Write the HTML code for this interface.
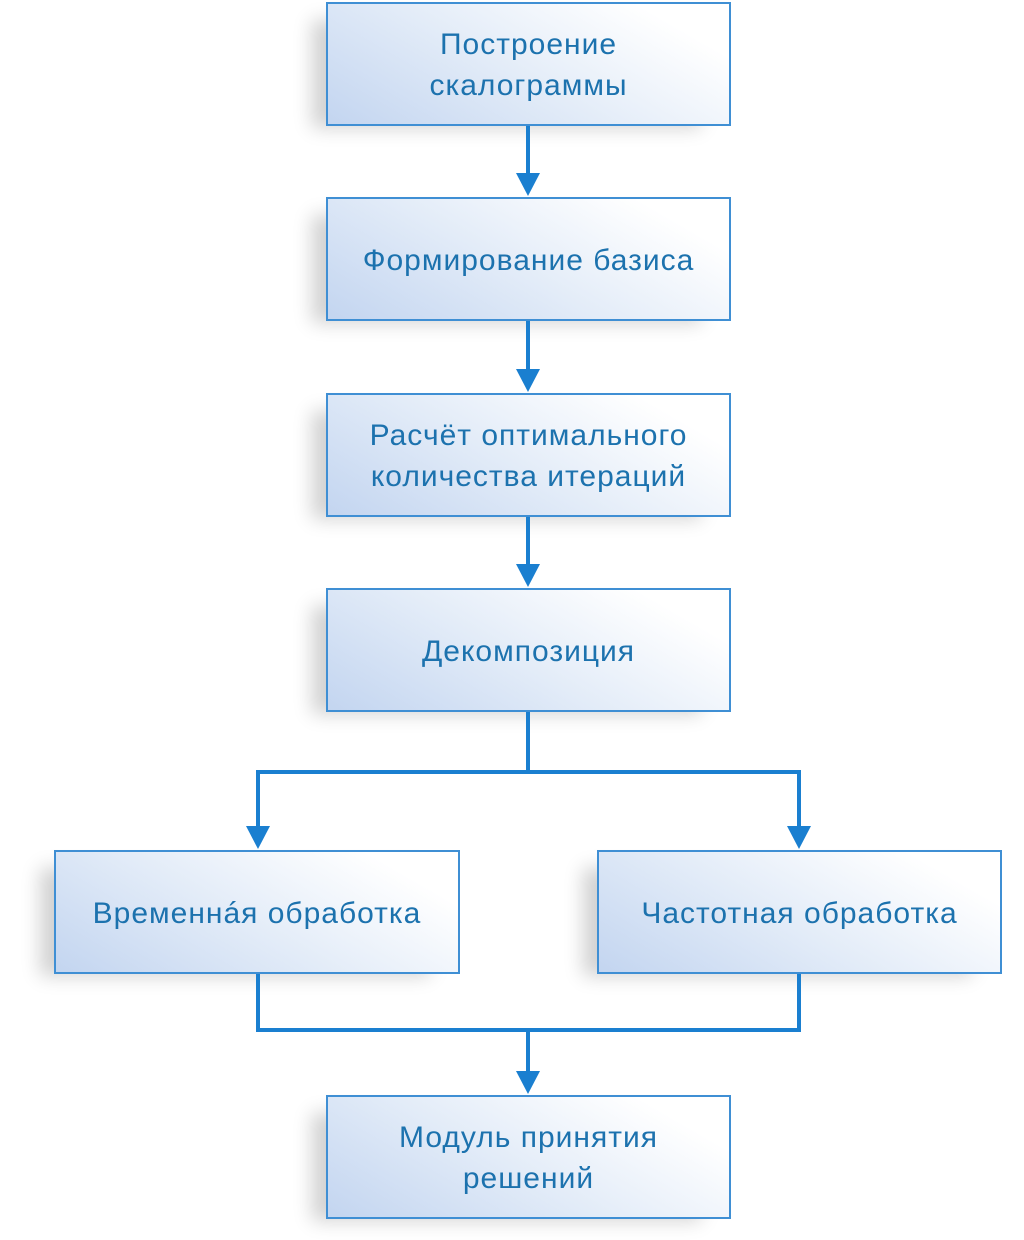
<!DOCTYPE html>
<html><head><meta charset="utf-8"><style>
body{margin:0;width:1024px;height:1240px;background:#fff;position:relative;overflow:hidden;font-family:"Liberation Sans","DejaVu Sans",sans-serif;}
.b{position:absolute;box-sizing:border-box;border:2px solid #3f8fd4;background:linear-gradient(30deg,#c3d5f0 0%,#e3ecf8 45%,#fff 85%);box-shadow:-22px 10px 18px -8px rgba(0,0,0,0.18);display:flex;align-items:center;justify-content:center;text-align:center;color:#1c72ae;font-size:30px;letter-spacing:1px;line-height:41px;padding-top:2px;}
svg{position:absolute;left:0;top:0}
</style></head><body>
<div class="b" style="left:326px;top:2px;width:405px;height:124px">Построение<br>скалограммы</div>
<div class="b" style="left:326px;top:197px;width:405px;height:124px">Формирование базиса</div>
<div class="b" style="left:326px;top:393px;width:405px;height:124px">Расчёт оптимального<br>количества итераций</div>
<div class="b" style="left:326px;top:588px;width:405px;height:124px">Декомпозиция</div>
<div class="b" style="left:54px;top:850px;width:406px;height:124px">Временнáя обработка</div>
<div class="b" style="left:597px;top:850px;width:405px;height:124px">Частотная обработка</div>
<div class="b" style="left:326px;top:1095px;width:405px;height:124px">Модуль принятия<br>решений</div>
<svg width="1024" height="1240">
<g stroke="#1a7fd0" stroke-width="4" fill="none">
<path d="M528 126V176M528 321V372M528 517V567M528 712V772M258 772H799M258 770V829M799 770V829M258 974V1030H799V974M528 1030V1074"/>
</g>
<g fill="#1a7fd0">
<path d="M516 173H540L528 196Z"/><path d="M516 369H540L528 392Z"/><path d="M516 564H540L528 587Z"/>
<path d="M246 826H270L258 849Z"/><path d="M787 826H811L799 849Z"/><path d="M516 1071H540L528 1094Z"/>
</g>
</svg>
</body></html>
